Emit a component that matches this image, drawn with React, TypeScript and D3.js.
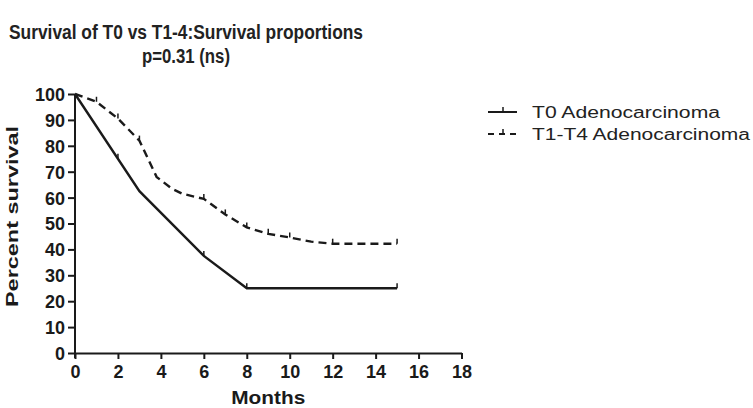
import React, { useEffect, useRef } from 'react'
import * as d3 from 'd3'

const title1 = 'Survival of T0 vs T1-4:Survival proportions'
const title2 = 'p=0.31 (ns)'
const xLabel = 'Months'
const yLabel = 'Percent survival'

const xTicks = [0, 2, 4, 6, 8, 10, 12, 14, 16, 18]
const yTicks = [0, 10, 20, 30, 40, 50, 60, 70, 80, 90, 100]

// T0 Adenocarcinoma
const t0Months = [0, 3, 6, 8, 15]
const t0Survival = [100, 62.5, 37.5, 25, 25]
const t0Censor = [2, 6, 8, 15]

// T1-T4 Adenocarcinoma
const t14Months = [0, 1, 2, 3, 3.8, 4.5, 5, 6, 7, 8, 9, 10, 11, 12, 15]
const t14Survival = [100, 97, 90.5, 82, 68, 63.5, 61.5, 59.5, 53.5, 48.5, 46, 44.6, 43, 42.2, 42.2]
const t14Censor = [1, 2, 3, 6, 7, 8, 9, 10, 12, 15]

const seriesNames = ['T0 Adenocarcinoma', 'T1-T4 Adenocarcinoma']

const W = 753
const H = 408
const font = '"Liberation Sans", Arial, sans-serif'

export default function App() {
  const svgRef = useRef<SVGSVGElement>(null)

  useEffect(() => {
    if (!svgRef.current) return
    const svg = d3.select(svgRef.current)
    svg.selectAll('*').remove()

    const x = d3.scaleLinear().domain([0, 18]).range([75, 461.5])
    const y = d3.scaleLinear().domain([0, 100]).range([353, 94])
    const color = '#1a1a1a'

    // title
    svg.append('text')
      .attr('x', 186).attr('y', 39)
      .attr('text-anchor', 'middle')
      .attr('font-family', font).attr('font-weight', 'bold').attr('font-size', 20)
      .attr('fill', '#222')
      .attr('textLength', 354).attr('lengthAdjust', 'spacingAndGlyphs')
      .text(title1)
    svg.append('text')
      .attr('x', 186).attr('y', 63)
      .attr('text-anchor', 'middle')
      .attr('font-family', font).attr('font-weight', 'bold').attr('font-size', 20)
      .attr('fill', '#222')
      .attr('textLength', 88).attr('lengthAdjust', 'spacingAndGlyphs')
      .text(title2)

    // axes
    const xAxis = svg.append('g')
      .attr('transform', `translate(0,${y(0)})`)
      .call(d3.axisBottom(x).tickValues(xTicks).tickSize(6).tickPadding(6).tickSizeOuter(0))
    const yAxis = svg.append('g')
      .attr('transform', `translate(${x(0)},0)`)
      .call(d3.axisLeft(y).tickValues(yTicks).tickSize(7).tickPadding(3).tickSizeOuter(0))

    ;[xAxis, yAxis].forEach((g) => {
      g.selectAll('.domain').attr('stroke', color).attr('stroke-width', 2)
      g.selectAll('.tick line').attr('stroke', color).attr('stroke-width', 2)
      g.selectAll('text')
        .attr('font-family', font).attr('font-weight', 'bold').attr('font-size', 18)
        .attr('fill', color)
    })
    xAxis.selectAll('text').attr('dy', '0.72em')
    yAxis.selectAll('text').attr('dy', '0.36em')
    // small cross below origin
    yAxis.select('.domain').attr('d', `M0,${y(100)}V${y(0) + 5}`)

    svg.append('text')
      .attr('x', x(9)).attr('y', 404)
      .attr('text-anchor', 'middle')
      .attr('font-family', font).attr('font-weight', 'bold').attr('font-size', 19)
      .attr('fill', color)
      .attr('textLength', 74).attr('lengthAdjust', 'spacingAndGlyphs')
      .text(xLabel)
    svg.append('text')
      .attr('transform', `translate(18,${(126 + 307) / 2}) rotate(-90)`)
      .attr('text-anchor', 'middle')
      .attr('font-family', font).attr('font-weight', 'bold').attr('font-size', 17)
      .attr('fill', color)
      .attr('textLength', 181).attr('lengthAdjust', 'spacingAndGlyphs')
      .text(yLabel)

    const line = d3.line<[number, number]>().x((d) => x(d[0])).y((d) => y(d[1]))
    const t0 = t0Months.map((m, i) => [m, t0Survival[i]] as [number, number])
    const t14 = t14Months.map((m, i) => [m, t14Survival[i]] as [number, number])
    const interp = (pts: [number, number][], m: number) =>
      d3.scaleLinear().domain(pts.map((p) => p[0])).range(pts.map((p) => p[1]))(m)

    svg.append('path').datum(t14)
      .attr('d', line).attr('fill', 'none')
      .attr('stroke', color).attr('stroke-width', 2.4)
      .attr('stroke-dasharray', '8,5')
    svg.append('path').datum(t0)
      .attr('d', line).attr('fill', 'none')
      .attr('stroke', color).attr('stroke-width', 2.4)

    const censor = (months: number[], pts: [number, number][]) => {
      svg.append('g').selectAll('line').data(months).join('line')
        .attr('x1', (m) => x(m)).attr('x2', (m) => x(m))
        .attr('y1', (m) => y(interp(pts, m)))
        .attr('y2', (m) => y(interp(pts, m)) - 5)
        .attr('stroke', color).attr('stroke-width', 1.5)
    }
    censor(t0Censor, t0)
    censor(t14Censor, t14)

    // legend
    const lg = svg.append('g')
    const rows = [
      { name: seriesNames[0], dash: null, yy: 112, len: 188 },
      { name: seriesNames[1], dash: '6,5', yy: 134, len: 218 },
    ]
    rows.forEach((r) => {
      lg.append('line')
        .attr('x1', 488).attr('x2', 517).attr('y1', r.yy).attr('y2', r.yy)
        .attr('stroke', color).attr('stroke-width', 2)
        .attr('stroke-dasharray', r.dash)
      lg.append('line')
        .attr('x1', 503).attr('x2', 503).attr('y1', r.yy).attr('y2', r.yy - 5)
        .attr('stroke', color).attr('stroke-width', 1.5)
      lg.append('text')
        .attr('x', 532).attr('y', r.yy + 6)
        .attr('font-family', font).attr('font-size', 16)
        .attr('fill', '#222')
        .attr('textLength', r.len).attr('lengthAdjust', 'spacingAndGlyphs')
        .text(r.name)
    })
  }, [])

  return (
    <svg ref={svgRef} width={W} height={H}
      style={{ position: 'absolute', left: 0, top: 0, background: '#fff' }} />
  )
}
